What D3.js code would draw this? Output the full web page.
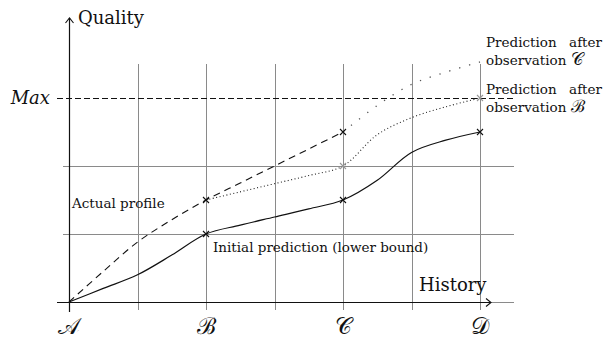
<!DOCTYPE html>
<html><head><meta charset="utf-8">
<script src="https://cdn.jsdelivr.net/npm/d3@7/dist/d3.min.js"></script>
<style>body{margin:0;background:#fff}svg{display:block}text{font-family:"DejaVu Serif",serif;fill:#111}</style>
</head><body><svg id="c" width="604" height="340"></svg>
<script>
// categories on the history axis (positions 0,2,4,6)
const categories = ["\u{1D49C}", "\u212C", "\u{1D49E}", "\u{1D49F}"];
const categoryPos = [0, 2, 4, 6];
const gridX = [0, 1, 2, 3, 4, 5, 6];
const gridY = [1, 2];
const maxLevel = 3;
// series (x in grid units, y in quality units)
const initialPrediction = [[0,0],[0.5,0.2],[1,0.4],[1.5,0.69],[2,1],[2.5,1.13],[3,1.25],[3.5,1.37],[4,1.5],[4.5,1.79],[5,2.2],[5.5,2.38],[6,2.5]];
const actualProfile = [[0,0],[0.5,0.45],[1,0.88],[1.5,1.21],[2,1.5],[2.5,1.75],[3,2],[3.5,2.25],[4,2.5]];
const predAfterB = [[2,1.5],[2.5,1.62],[3,1.74],[3.5,1.86],[4,2.0],[4.5,2.46],[5,2.71],[5.5,2.87],[6,3.0]];
const predAfterC = [[4,2.5],[4.5,2.89],[5,3.2],[5.5,3.38],[6,3.53]];
const crossesBlack = [[2,1],[2,1.5],[4,1.5],[4,2.5],[6,2.5]];
const crossesGray = [[4,2.0],[6,3.0]];

const svg = d3.select("#c");
const x = d3.scaleLinear().domain([0,6]).range([69,480]);
const y = d3.scaleLinear().domain([0,3]).range([302,98]);
const px = v => Math.round(v) + 0.5;
const grid = "#8a8a8a";

// vertical grid
svg.append("g").selectAll("line").data(gridX).join("line")
  .attr("x1", d=>px(x(d))).attr("x2", d=>px(x(d))).attr("y1", y(3.5)).attr("y2", 310)
  .attr("stroke", grid).attr("stroke-width", 1).attr("shape-rendering","crispEdges");
// horizontal grid
svg.append("g").selectAll("line").data([0, ...gridY]).join("line")
  .attr("x1", 63).attr("x2", 514).attr("y1", d=>px(y(d))).attr("y2", d=>px(y(d)))
  .attr("stroke", grid).attr("stroke-width", 1).attr("shape-rendering","crispEdges");
// Max dashed
svg.append("line").attr("x1", 57).attr("x2", 514).attr("y1", px(y(maxLevel))).attr("y2", px(y(maxLevel)))
  .attr("stroke", "#111").attr("stroke-width", 1).attr("stroke-dasharray", "6,3").attr("shape-rendering","crispEdges");

// axes
svg.append("line").attr("x1", 57).attr("x2", 491).attr("y1", px(y(0))).attr("y2", px(y(0))).attr("stroke","#111").attr("stroke-width",1.2);
svg.append("line").attr("x1", px(x(0))).attr("x2", px(x(0))).attr("y1", 312).attr("y2", 18).attr("stroke","#111").attr("stroke-width",1.2);
svg.append("path").attr("d", `M486,298.5 L491,302.5 L486,306.5`).attr("fill","none").attr("stroke","#111").attr("stroke-width",1.1);
svg.append("path").attr("d", `M65.5,23 L69.5,18 L73.5,23`).attr("fill","none").attr("stroke","#111").attr("stroke-width",1.1);

const line = d3.line().x(d=>x(d[0])).y(d=>y(d[1])).curve(d3.curveCatmullRom.alpha(0.5));
svg.append("path").attr("d", line(actualProfile)).attr("fill","none").attr("stroke","#111").attr("stroke-width",1.1).attr("stroke-dasharray","7,5");
svg.append("path").attr("d", line(predAfterB)).attr("fill","none").attr("stroke","#222").attr("stroke-width",1.1).attr("stroke-dasharray","1,2.5");
svg.append("path").attr("d", line(predAfterC)).attr("fill","none").attr("stroke","#555").attr("stroke-width",1.3).attr("stroke-dasharray","1.3,9");
svg.append("path").attr("d", line(initialPrediction)).attr("fill","none").attr("stroke","#111").attr("stroke-width",1.2);

function cross(data, color){
  svg.append("g").selectAll("path").data(data).join("path")
    .attr("d", d=>{const cx=x(d[0]), cy=y(d[1]), s=3; return `M${cx-s},${cy-s}L${cx+s},${cy+s}M${cx-s},${cy+s}L${cx+s},${cy-s}`;})
    .attr("stroke", color).attr("stroke-width", 1.1);
}
cross(crossesGray, "#999");
cross(crossesBlack, "#111");

// labels
svg.append("g").selectAll("text").data(categories).join("text")
  .attr("x", (d,i)=>x(categoryPos[i])).attr("y", 334).attr("text-anchor","middle")
  .style("font-size","23px").text(d=>d);
svg.append("text").attr("x", 78).attr("y", 24).style("font-size","18px").text("Quality");
svg.append("text").attr("x", 419).attr("y", 291).style("font-size","18px").text("History");
svg.append("text").attr("x", 50).attr("y", 104).attr("text-anchor","end").style("font-size","18px").style("font-style","italic").text("Max");
svg.append("text").attr("x", 72).attr("y", 208).style("font-size","13.5px").text("Actual profile");
svg.append("text").attr("x", 213).attr("y", 252).style("font-size","13.5px").text("Initial prediction (lower bound)");
function note(y0, letter){
  svg.append("text").attr("x", 486).attr("y", y0).style("font-size","13.5px").text("Prediction");
  svg.append("text").attr("x", 602).attr("y", y0).attr("text-anchor","end").style("font-size","13.5px").text("after");
  const t = svg.append("text").attr("x", 486).attr("y", y0+18).style("font-size","13.5px");
  t.append("tspan").text("observation ");
  t.append("tspan").style("font-size","17px").text(letter);
}
note(47, categories[2]);
note(94, categories[1]);
</script></body></html>
